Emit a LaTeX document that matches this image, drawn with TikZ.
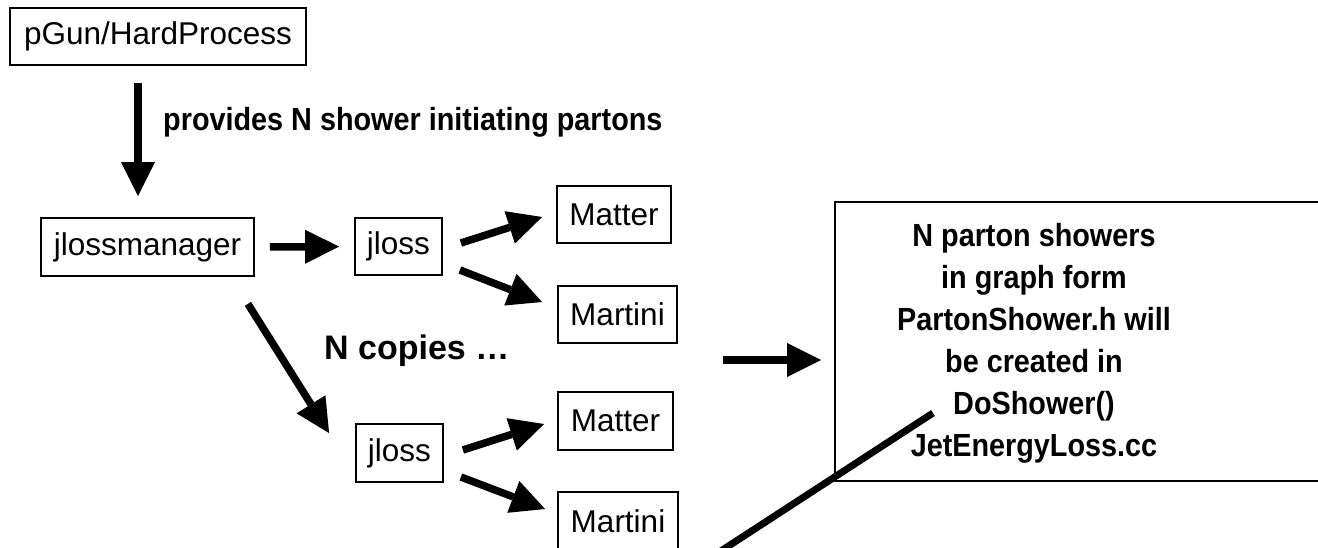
\documentclass[tikz,border=0pt]{standalone}
\usepackage{fontspec}
\setmainfont{Liberation Sans}
\newfontfamily\narrowsans[FakeStretch=0.9]{Liberation Sans}
\usetikzlibrary{arrows.meta,calc}
\begin{document}
\begin{tikzpicture}[x=1pt,y=-1pt,
  box/.style={draw, line width=1.8pt, inner sep=0pt, font=\fontsize{31.5}{38}\selectfont},
  arr/.style={line width=7.5pt, -{Triangle[length=34pt,width=34pt,line width=0pt]}},
  lbl/.style={inner sep=0pt, font=\narrowsans\fontsize{32}{42}\selectfont\bfseries}]
\useasboundingbox (0,0) rectangle (1318,547);
\clip (0,0) rectangle (1318,547);

% components
\node[box, minimum width=296pt, minimum height=57pt] (pgun) at (158,36.5) {pGun/HardProcess};
\node[box, minimum width=213pt, minimum height=58pt] (manager) at (147.5,247) {jlossmanager};
\node[box, minimum width=87pt, minimum height=57pt] (jlossA) at (398.5,246.5) {jloss};
\node[box, minimum width=114pt, minimum height=57pt] (matterA) at (614,214.5) {Matter};
\node[box, minimum width=119pt, minimum height=57pt] (martiniA) at (617.5,314.5) {Martini};
\node[box, minimum width=87pt, minimum height=58pt] (jlossB) at (399.5,453) {jloss};
\node[box, minimum width=115pt, minimum height=58pt] (matterB) at (615.5,421) {Matter};
\node[box, minimum width=120pt, minimum height=58pt] (martiniB) at (618,521) {Martini};

% labels
\node[lbl, anchor=base west] (provides) at (163,130) {provides N shower initiating partons};
\node[lbl, font=\fontsize{34}{40}\selectfont\bfseries, anchor=base west] (copies) at (324,359) {N copies …};

% result of the showers
\node[draw, line width=1.8pt, minimum width=495pt, minimum height=279pt, inner sep=0pt] (resultbox) at (1082.5,341.5) {};
\node[lbl, align=center] (resulttext) at (1034,343) {N parton showers\\in graph form\\PartonShower.h will\\be created in\\DoShower()\\JetEnergyLoss.cc};

% flow
\draw[arr] ($(pgun.south)+(-20,17)$) -- ($(manager.north)+(-9.5,-21)$);
\draw[arr, shorten <=15pt, shorten >=15pt] (manager.east) -- (jlossA.west);
\draw[arr] ($(jlossA.east)+(18,-3.5)$) -- ($(matterA.west)+(-14,2.5)$);
\draw[arr] ($(jlossA.east)+(17,23.5)$) -- ($(martiniA.west)+(-15,-12.5)$);
\draw[arr] ($(manager.south east)+(-7,27)$) -- ($(jlossB.north west)+(-26,10)$);
\draw[arr] ($(jlossB.east)+(19,-3)$) -- ($(matterB.west)+(-13,3)$);
\draw[arr] ($(jlossB.east)+(17,24)$) -- ($(martiniB.west)+(-12,-12)$);
\coordinate (spread) at (723,360);
\draw[arr, shorten >=13pt] (spread) -- (spread -| resultbox.west);

% stroke across the result box
\coordinate (tailA) at (933,413);
\coordinate (tailB) at (660,590.6);
\draw[line width=7pt] (tailA) -- (tailB);
\end{tikzpicture}
\end{document}
